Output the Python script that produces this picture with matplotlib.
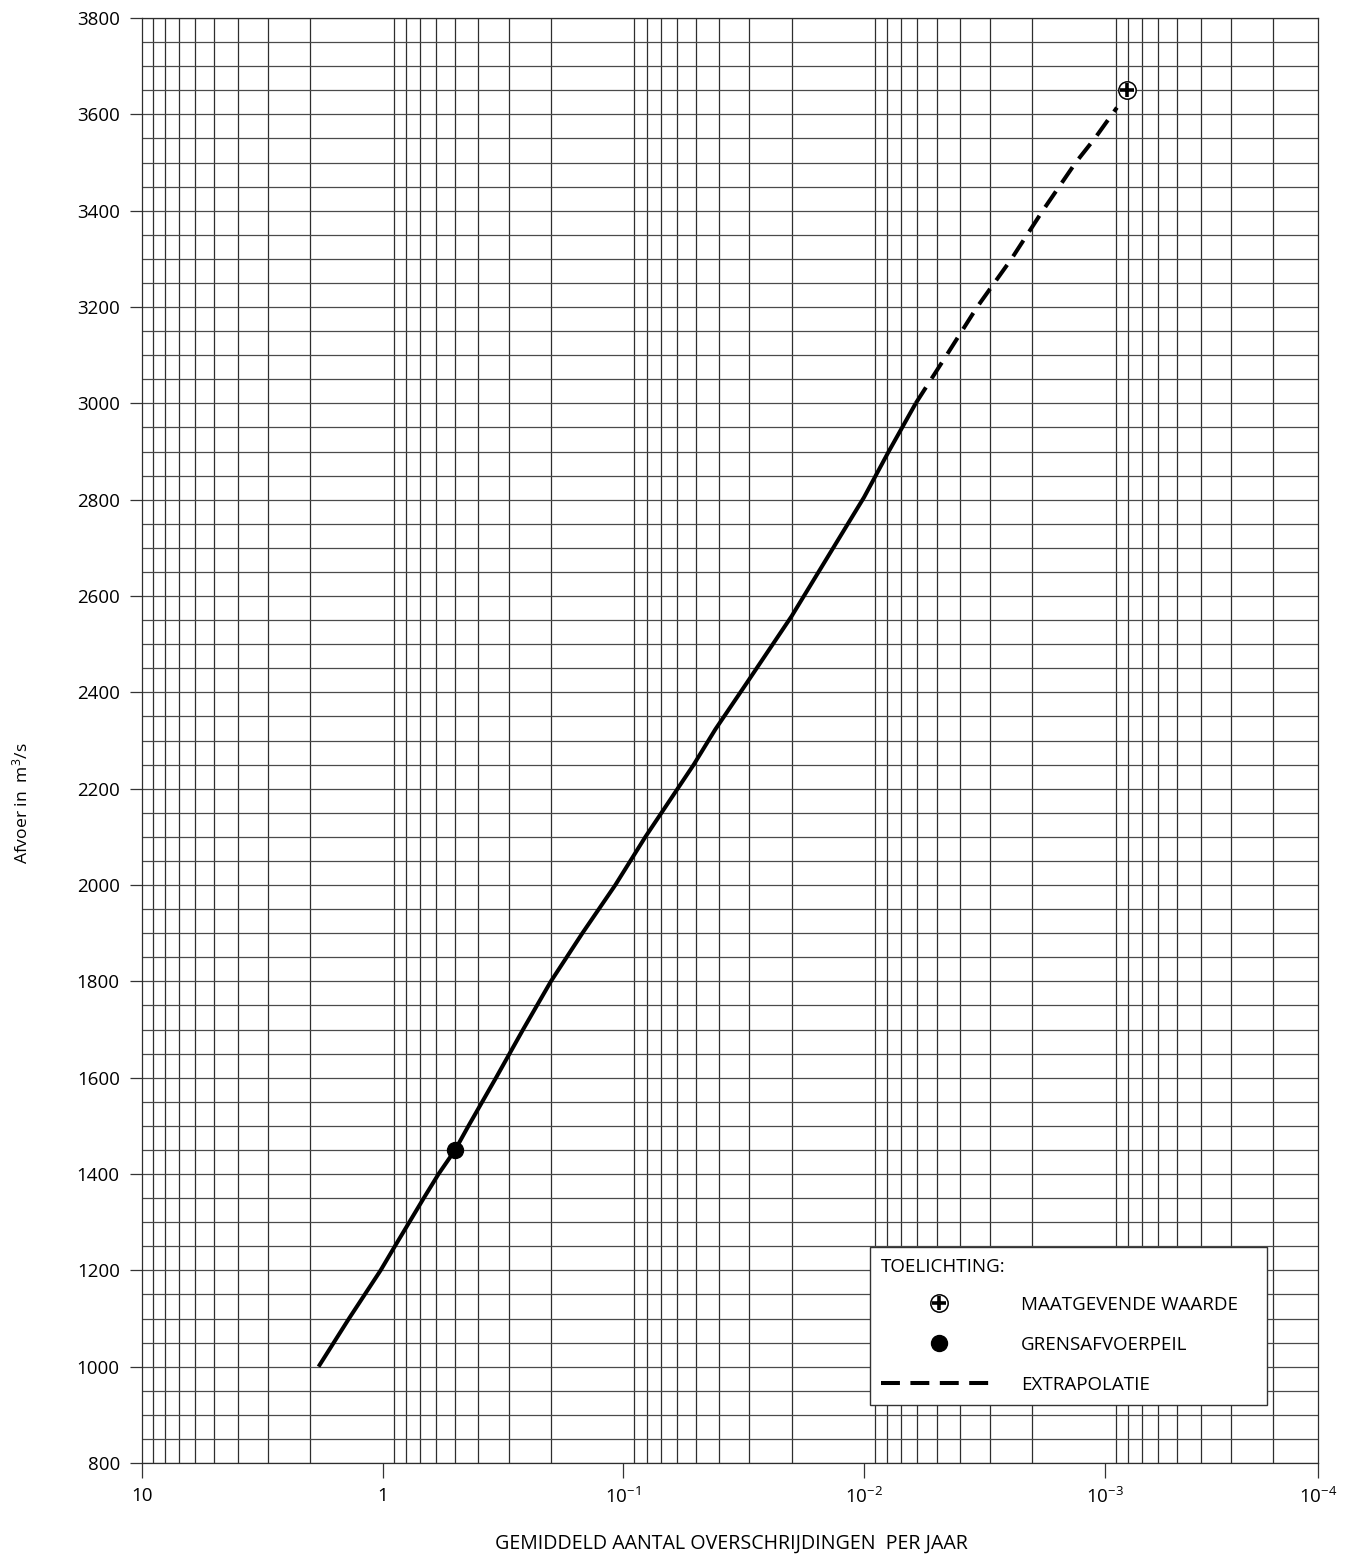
import matplotlib
matplotlib.use("Agg")
import matplotlib.pyplot as plt
from matplotlib.ticker import LogLocator, MultipleLocator, FixedLocator, NullFormatter
from matplotlib.legend_handler import HandlerTuple
from matplotlib.lines import Line2D

plt.rcParams['font.family'] = ['Open Sans', 'DejaVu Sans']
plt.rcParams['mathtext.fontset'] = 'custom'
plt.rcParams['mathtext.rm'] = 'Open Sans'
plt.rcParams['mathtext.it'] = 'Open Sans'
plt.rcParams['mathtext.bf'] = 'Open Sans'

# ---- data ----
solid_freq = [1.847, 1.38, 1.02, 0.89, 0.775, 0.675, 0.586, 0.5, 0.44, 0.338, 0.261, 0.2,
              0.148, 0.108, 0.081, 0.0595, 0.051, 0.0415, 0.03, 0.02, 0.01,
              0.0079, 0.0061]
solid_q = [1000, 1100, 1200, 1250, 1300, 1350, 1400, 1450, 1500, 1600, 1700, 1800,
           1900, 2000, 2100, 2200, 2250, 2323, 2427, 2558, 2805,
           2900, 3000]

extrap_freq = [0.0061, 0.00454, 0.00339, 0.00244, 0.00181, 0.00132, 0.0011, 0.00089]
extrap_q = [3000, 3100, 3200, 3300, 3400, 3500, 3550, 3614]

maatgevend_freq = [8.1e-4]
maatgevend_q = [3650]

grens_freq = [0.5]
grens_q = [1450]

x_ticks = [10, 1, 0.1, 0.01, 0.001, 1.3e-4]
x_ticklabels = ['10', '1', r'$10^{-1}$', r'$10^{-2}$', r'$10^{-3}$', r'$10^{-4}$']
y_ticks = list(range(800, 3801, 200))

xlabel = 'GEMIDDELD AANTAL OVERSCHRIJDINGEN  PER JAAR'
ylabel = r'Afvoer in  m$^3$/s'
legend_title = 'TOELICHTING:'
legend_labels = ['MAATGEVENDE WAARDE', 'GRENSAFVOERPEIL', 'EXTRAPOLATIE']

FS = 13.5

# ---- figure ----
W, H = 1348, 1557
fig = plt.figure(figsize=(W / 100, H / 100), dpi=100)
left, right, top, bottom = 142, 1318, 18, 1463
ax = fig.add_axes([left / W, 1 - bottom / H, (right - left) / W, (bottom - top) / H])

ax.set_xscale('log')
ax.set_xlim(10, 1.3e-4)
ax.set_ylim(800, 3800)

# grid
ax.xaxis.set_major_locator(FixedLocator(x_ticks))
ax.set_xticklabels(x_ticklabels)
ax.xaxis.set_minor_locator(LogLocator(base=10, subs=range(1, 10), numticks=20))
ax.xaxis.set_minor_formatter(NullFormatter())
ax.yaxis.set_major_locator(FixedLocator(y_ticks))
ax.yaxis.set_minor_locator(MultipleLocator(50))

ax.grid(which='minor', axis='x', color='#2e2e2e', lw=0.9)
ax.grid(which='minor', axis='y', color='#4a4a4a', lw=0.9)
ax.grid(which='major', axis='y', color='#4a4a4a', lw=0.9)
ax.set_axisbelow(True)

ax.tick_params(axis='both', which='minor', length=0)
ax.tick_params(axis='x', which='major', length=11, width=0.9, direction='out',
               pad=6, labelsize=FS, color='#333333')
ax.tick_params(axis='y', which='major', length=9, width=0.9, direction='out',
               pad=7, labelsize=FS, color='#333333')
for sp in ax.spines.values():
    sp.set_linewidth(0.9)
    sp.set_color('#2e2e2e')

# curves
ax.plot(solid_freq, solid_q, color='black', lw=2.9, solid_capstyle='butt',
        solid_joinstyle='round', zorder=3)
ax.plot(extrap_freq, extrap_q, color='black', lw=2.9, dashes=(4.7, 2.6),
        dash_capstyle='butt', zorder=3)

ax.plot(grens_freq, grens_q, 'o', color='black', ms=11.5, zorder=4)
ax.plot(maatgevend_freq, maatgevend_q, 'o', mfc='white', mec='black', mew=1.1,
        ms=12.5, zorder=4)
ax.plot(maatgevend_freq, maatgevend_q, '+', color='black', mew=2.6, ms=10, zorder=5)

ax.set_xlabel(xlabel, fontsize=14.1)
ax.xaxis.set_label_coords((731 - left) / (right - left), (bottom - 1534) / (bottom - top))
ax.set_ylabel(ylabel, fontsize=12.6)
ax.yaxis.set_label_coords((31 - left) / (right - left), (bottom - 803) / (bottom - top))

# legend
h_mg = (Line2D([], [], ls='none', marker='o', mfc='white', mec='black', mew=1.1, ms=12.5),
        Line2D([], [], ls='none', marker='+', color='black', mew=2.6, ms=10))
h_gr = Line2D([], [], ls='none', marker='o', color='black', ms=11.5)
h_ex = Line2D([], [], color='black', lw=2.9, dashes=(4.7, 2.6), dash_capstyle='butt')
leg_x0 = (870 - left) / (right - left)
leg_y0 = (bottom - 1405) / (bottom - top)
leg_w = (1267 - 870) / (right - left)
leg_h = (1405 - 1246) / (bottom - top)
leg = ax.legend([h_mg, h_gr, h_ex], legend_labels, title=legend_title,
                title_fontsize=FS, fontsize=FS, loc='lower left',
                bbox_to_anchor=(leg_x0, leg_y0, leg_w, leg_h), mode='expand',
                borderaxespad=0, frameon=True, fancybox=False, shadow=False,
                edgecolor='#333333', framealpha=1, handlelength=6.2, handletextpad=1.25,
                labelspacing=1.17, borderpad=0.6, alignment='left', numpoints=1,
                handler_map={tuple: HandlerTuple(ndivide=1, pad=0)})
leg.get_frame().set_linewidth(1.0)
leg.set_zorder(6)
leg._legend_box.sep = 14

fig.savefig('out.png', dpi=100, facecolor='white')
